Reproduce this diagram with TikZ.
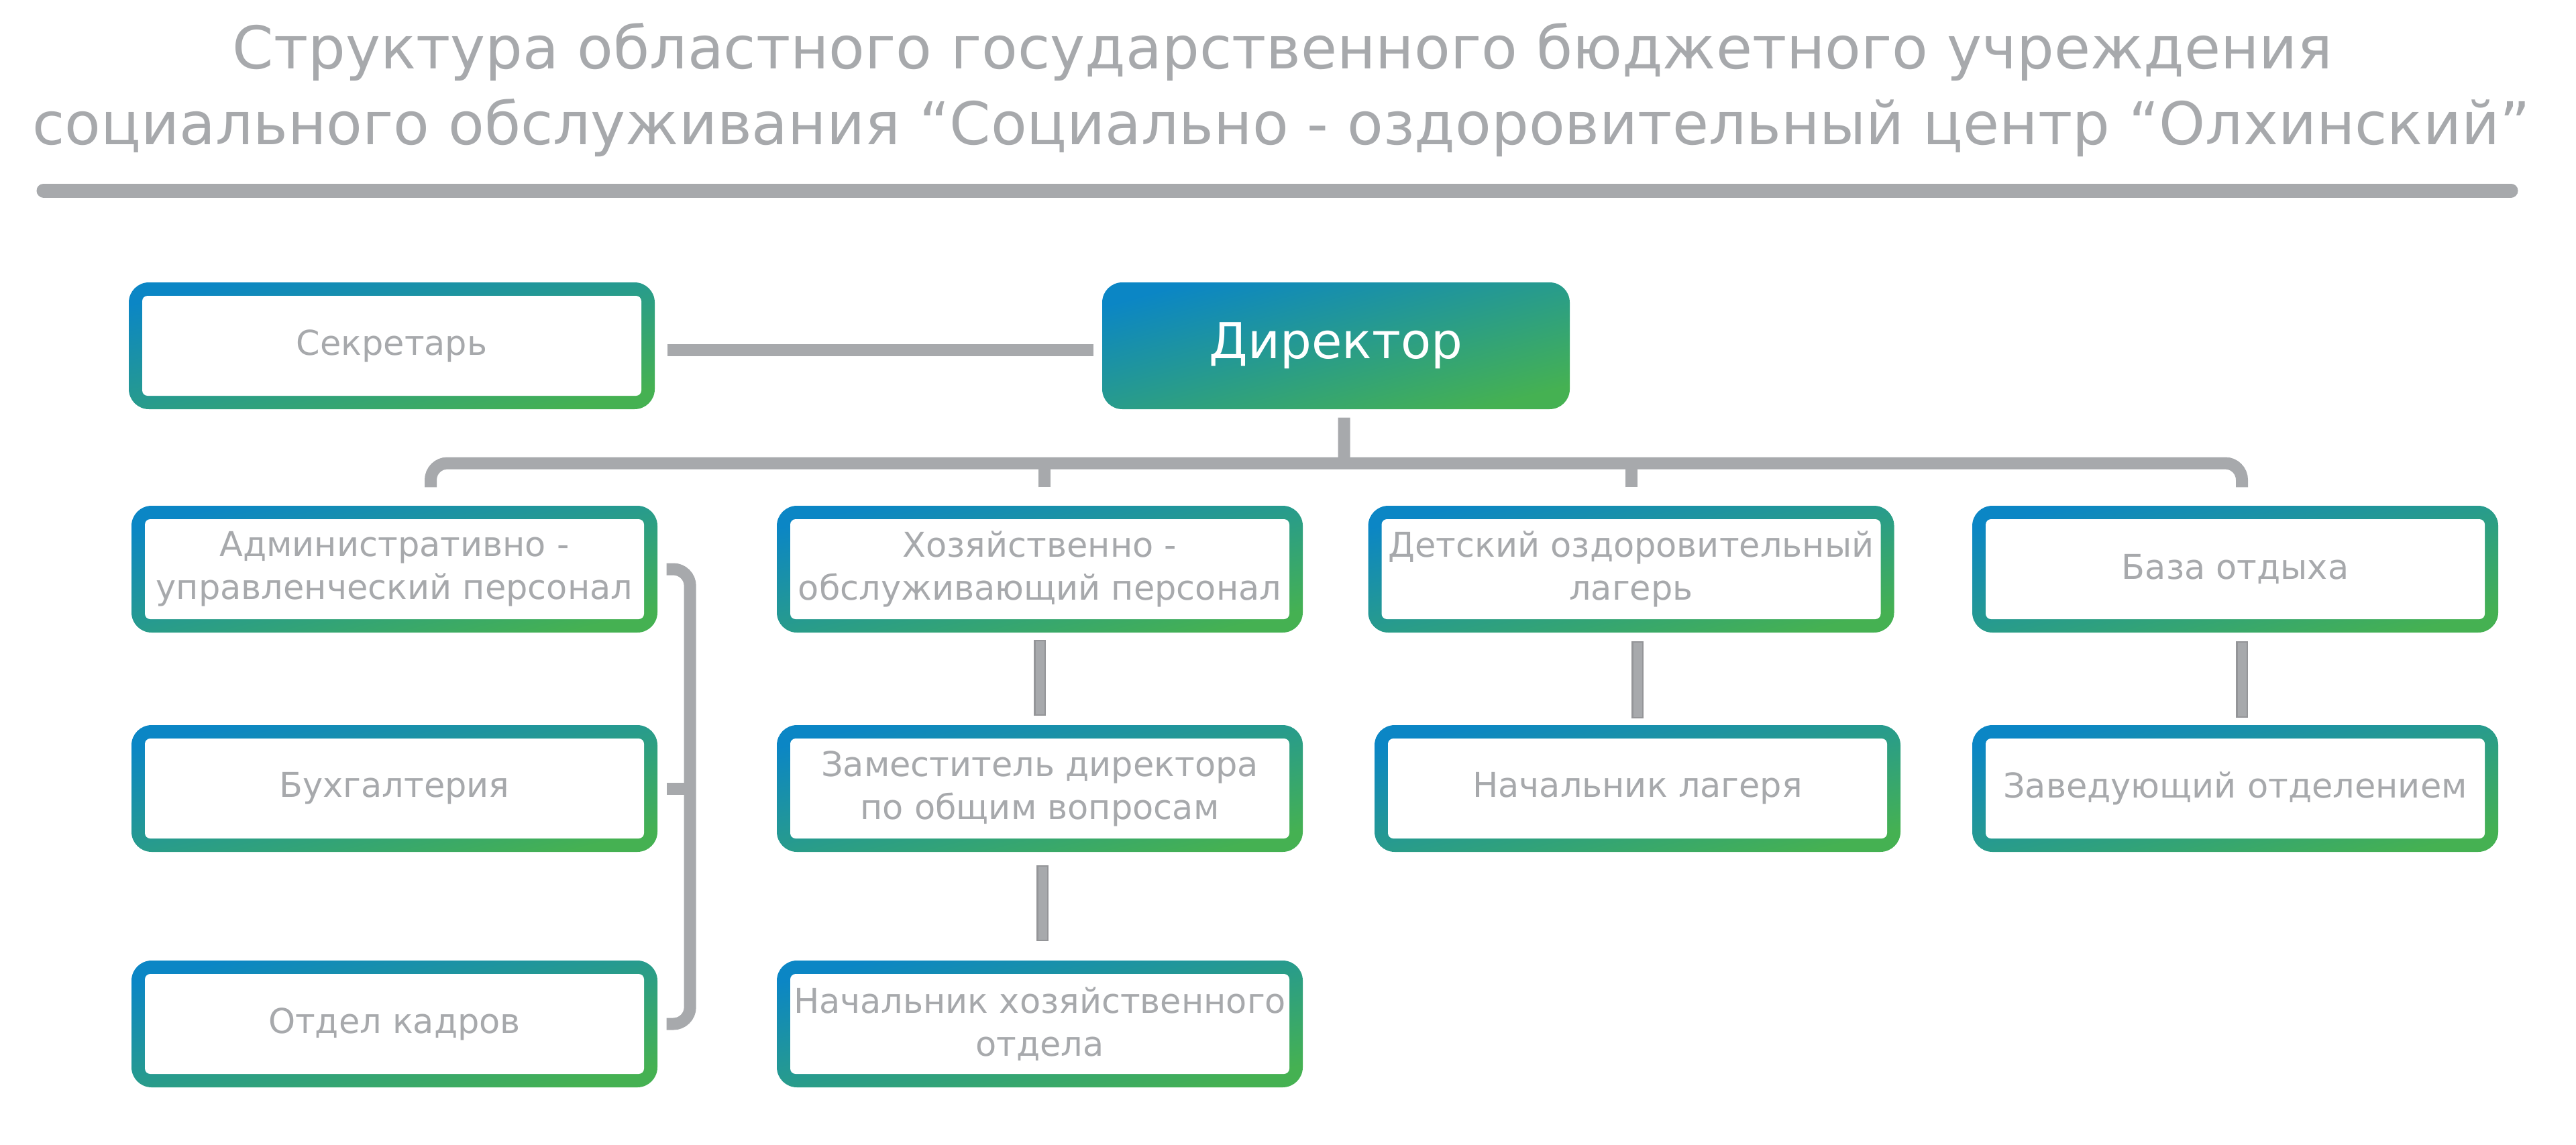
\documentclass[tikz,border=0pt]{standalone}
\usepackage{fontspec}
\setmainfont{DejaVu Sans}
\definecolor{sea}{RGB}{11,134,197}
\definecolor{leaf}{RGB}{69,177,82}
\definecolor{ash}{RGB}{167,169,172}
\definecolor{ashdark}{RGB}{148,149,152}
\tikzset{
  unit/.style={shade,top color=sea,bottom color=leaf,shading angle=13.5,
    rounded corners=3mm,minimum width=78.4mm,minimum height=18.9mm,
    align=center,text=ash,font=\fontsize{14.5pt}{18.2pt}\selectfont,
    path picture={\fill[white,rounded corners=0.8mm]
      ([shift={(2mm,-2mm)}]path picture bounding box.north west) rectangle
      ([shift={(-2mm,2mm)}]path picture bounding box.south east);}},
  head/.style={shade,top color=sea,bottom color=leaf,shading angle=15,
    rounded corners=3mm,minimum width=69.7mm,minimum height=18.9mm,
    text=white,font=\fontsize{21pt}{25pt}\selectfont},
  heading/.style={text=ash,font=\fontsize{25pt}{30pt}\selectfont,anchor=base},
  bar/.style={draw=ash,line width=1.8mm},
  link/.style={draw=ashdark,line width=0.25mm,double=ash,double distance=1.3mm,line cap=rect},
}
\begin{document}
\begin{tikzpicture}
  \useasboundingbox (0,0) rectangle (38.40,-17.06);
  \node[heading] (title1) at (19.12,-1.02) {Структура областного государственного бюджетного учреждения};
  \node[heading] (title2) at (19.10,-2.15) {социального обслуживания “Социально - оздоровительный центр “Олхинский”};
  \draw[ash,line width=2.1mm,line cap=round] (0.65,-2.84) -- (37.43,-2.84);

  \node[unit] (sec) at (5.84,-5.155) {Секретарь};
  \node[head] (dir) at (19.915,-5.155) {Директор};
  \node[unit] (adm) at (5.88,-8.485) {Административно -\\управленческий персонал};
  \node[unit] (hoz) at (15.50,-8.485) {Хозяйственно -\\обслуживающий персонал};
  \node[unit] (camp) at (24.315,-8.485) {Детский оздоровительный\\лагерь};
  \node[unit] (base) at (33.32,-8.485) {База отдыха};
  \node[unit] (acc) at (5.88,-11.755) {Бухгалтерия};
  \node[unit] (dep) at (15.50,-11.755) {Заместитель директора\\по общим вопросам};
  \node[unit] (chief) at (24.41,-11.755) {Начальник лагеря};
  \node[unit] (branch) at (33.32,-11.755) {Заведующий отделением};
  \node[unit] (hr) at (5.88,-15.265) {Отдел кадров};
  \node[unit] (supply) at (15.50,-15.265) {Начальник хозяйственного\\отдела};

  \draw[bar] ([shift={(1.8mm,-0.6mm)}]sec.east) -- ([shift={(-1.2mm,-0.6mm)}]dir.west);
  \coordinate (bus) at (20.035,-6.905);
  \draw[bar] ([shift={(1.2mm,-1.2mm)}]dir.south) -- (bus);
  \draw[bar,rounded corners=2.5mm] ([shift={(5.4mm,2.7mm)}]adm.north) |- (bus) -| ([shift={(1mm,2.7mm)}]base.north);
  \draw[bar] ([shift={(0.7mm,2.7mm)}]hoz.north) -- ([xshift=0.7mm]hoz.north |- bus);
  \draw[bar] ([yshift=2.7mm]camp.north) -- (camp.north |- bus);

  \draw[bar,rounded corners=2.5mm] ([xshift=1.3mm]adm.east) -| ([xshift=4.8mm]hr.east) -- ([xshift=1.3mm]hr.east);
  \draw[bar] ([xshift=1.3mm]acc.east) -- ([xshift=4.8mm]acc.east);

  \draw[link] ([yshift=-1.9mm]hoz.south) -- ([yshift=2.2mm]dep.north);
  \draw[link] ([shift={(0.4mm,-2.8mm)}]dep.south) -- ([shift={(0.4mm,3.7mm)}]supply.north);
  \draw[link] ([yshift=-2.1mm]chief.north |- camp.south) -- ([yshift=1.8mm]chief.north);
  \draw[link] ([shift={(1mm,-2.1mm)}]base.south) -- ([shift={(1mm,1.9mm)}]branch.north);
\end{tikzpicture}
\end{document}
